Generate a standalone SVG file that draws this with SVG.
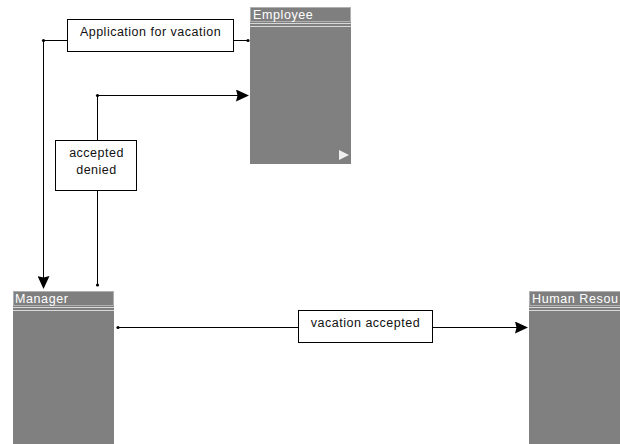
<svg xmlns="http://www.w3.org/2000/svg" width="620" height="444" viewBox="0 0 620 444">
  <style>
    .head { fill: #7f7f7f; stroke: #b0b0b0; stroke-width: 1; }
    .body { fill: #808080; }
    .sep { stroke: #d8d8d8; stroke-width: 1; }
    .title { font-family: "Liberation Sans", Arial, sans-serif; font-size: 12.5px; letter-spacing: 0.6px; fill: #ffffff; }
    .wire { fill: none; stroke: #000; stroke-width: 1; }
    .lbl { fill: #fff; stroke: #000; stroke-width: 1; }
    .lbltxt { font-family: "Liberation Sans", Arial, sans-serif; font-size: 12.5px; letter-spacing: 0.5px; fill: #111; text-anchor: middle; }
    .dot { fill: #000; }
  </style>
  <defs>
    <marker id="arrow" viewBox="0 0 13 12" refX="12" refY="6" markerWidth="13" markerHeight="12" markerUnits="userSpaceOnUse" orient="auto">
      <path d="M0,0 L13,6 L0,12 L1.5,6 Z" fill="#000"/>
    </marker>
    <clipPath id="hrClip">
      <rect x="529" y="291" width="91" height="153"/>
    </clipPath>
  </defs>

  <g id="employee">
    <rect class="body" x="250" y="7" width="101" height="157"/>
    <rect class="head" x="250.5" y="7.5" width="100" height="14"/>
    <line class="sep" x1="250" y1="23.5" x2="351" y2="23.5"/>
    <line class="sep" x1="250" y1="26.5" x2="351" y2="26.5"/>
    <text class="title" x="253" y="19">Employee</text>
    <path d="M339,150 L349,155 L339,160 Z" fill="#f0f0f0"/>
  </g>

  <g id="manager">
    <rect class="body" x="13" y="291" width="101" height="153"/>
    <rect class="head" x="13.5" y="291.5" width="100" height="14"/>
    <line class="sep" x1="13" y1="307.5" x2="114" y2="307.5"/>
    <line class="sep" x1="13" y1="310.5" x2="114" y2="310.5"/>
    <text class="title" x="15" y="303">Manager</text>
  </g>

  <g id="human-resources">
    <rect class="body" x="529" y="291" width="91" height="153"/>
    <rect class="head" x="529.5" y="291.5" width="95" height="14"/>
    <line class="sep" x1="529" y1="307.5" x2="620" y2="307.5"/>
    <line class="sep" x1="529" y1="310.5" x2="620" y2="310.5"/>
    <text class="title" x="532" y="303" clip-path="url(#hrClip)">Human Resou</text>
  </g>

  <g id="connectors">
    <!-- Employee to Manager -->
    <g id="application">
      <path class="wire" d="M248,40.5 H43.5 V288" marker-end="url(#arrow)"/>
      <circle class="dot" cx="248" cy="40.5" r="1.6"/>
      <circle class="dot" cx="43.5" cy="40.5" r="1.6"/>
      <rect class="lbl" x="67.5" y="19.5" width="166" height="32"/>
      <text class="lbltxt" x="150.5" y="36">Application for vacation</text>
    </g>
    <!-- Manager to Employee -->
    <g id="decision">
      <path class="wire" d="M97.5,285 V95.5 H248" marker-end="url(#arrow)"/>
      <circle class="dot" cx="97.5" cy="285" r="1.6"/>
      <circle class="dot" cx="97.5" cy="95.5" r="1.6"/>
      <rect class="lbl" x="55.5" y="140.5" width="81" height="50"/>
      <text class="lbltxt" x="96.5" y="157">accepted</text>
      <text class="lbltxt" x="96.5" y="174">denied</text>
    </g>
    <!-- Manager to Human Resources -->
    <g id="forward">
      <path class="wire" d="M118,327.5 H527" marker-end="url(#arrow)"/>
      <circle class="dot" cx="118" cy="327.5" r="1.6"/>
      <rect class="lbl" x="298.5" y="310.5" width="134" height="32"/>
      <text class="lbltxt" x="365.5" y="327">vacation accepted</text>
    </g>
  </g>
</svg>
